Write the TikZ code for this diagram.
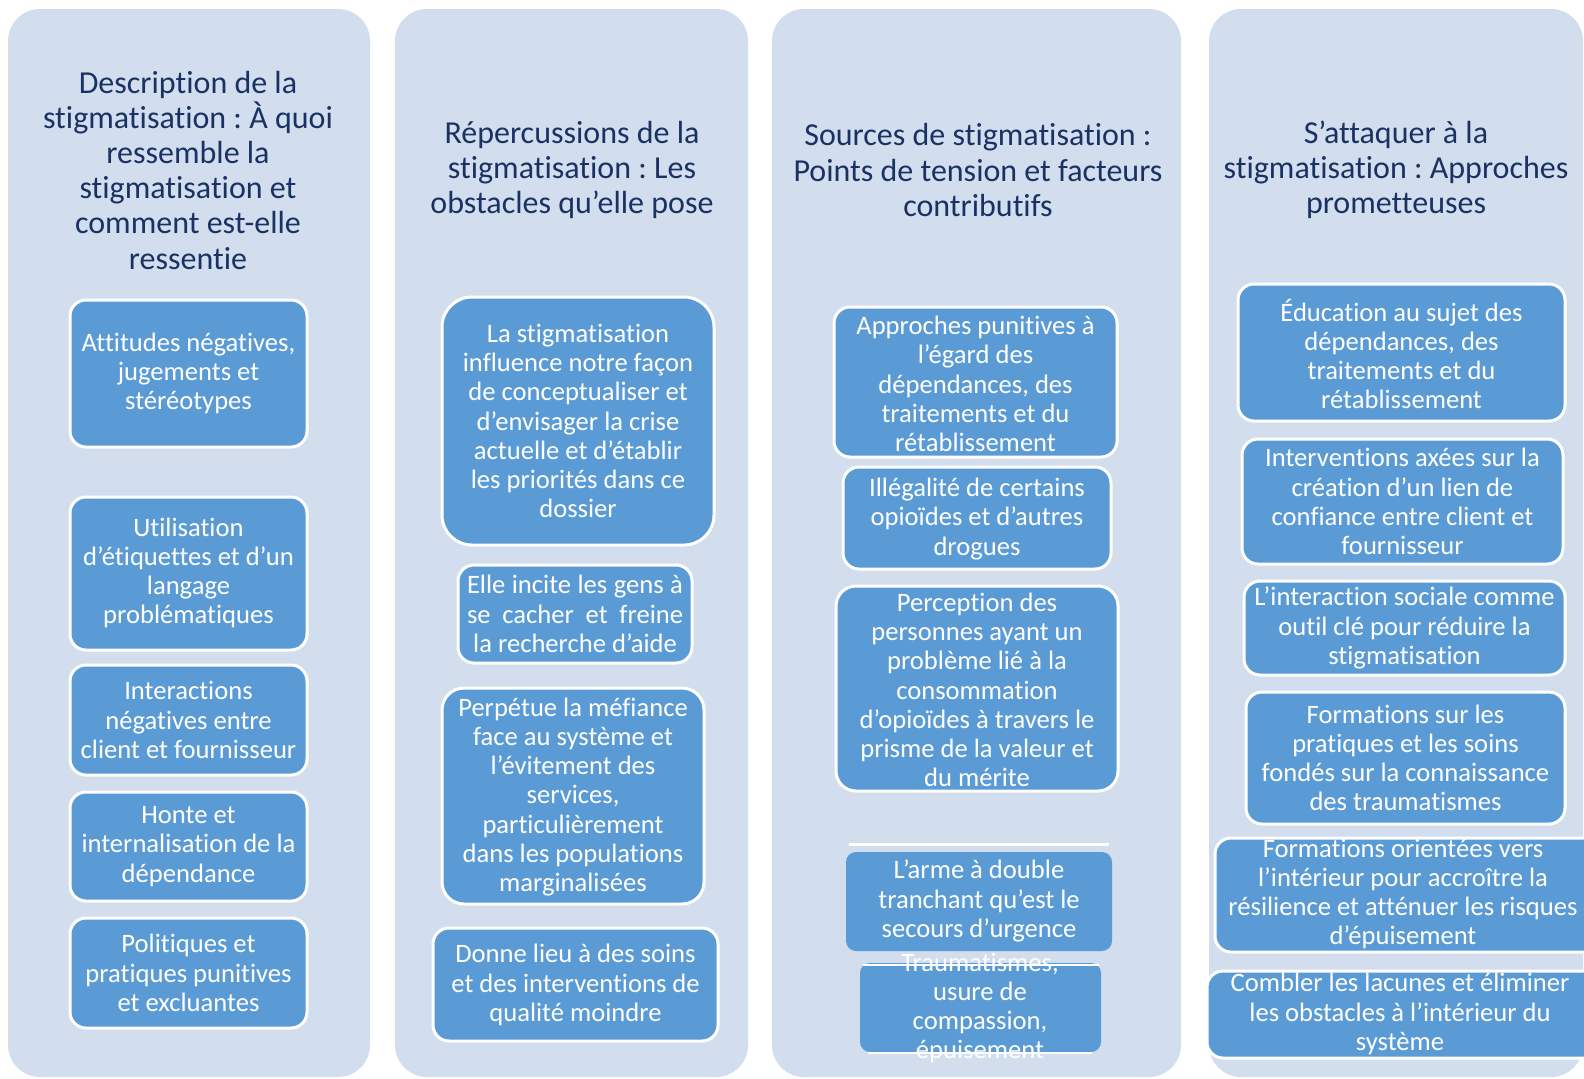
\documentclass[tikz,border=0pt]{standalone}
\usepackage{fontspec}
\setmainfont{Carlito}[Ligatures=NoCommon]
\frenchspacing
\definecolor{panelblue}{HTML}{D2DEEE}
\definecolor{boxblue}{HTML}{5B9BD5}
\definecolor{headnavy}{HTML}{1A3163}

\begin{document}
\begin{tikzpicture}[x=0.5pt,y=-0.5pt,
	panel/.style={fill=panelblue, rounded corners=16pt},
	box/.style={fill=boxblue, draw=white, line width=1.5pt, rounded corners=8pt},
	flatbox/.style={fill=boxblue, draw=none, rounded corners=5pt},
	head/.style={text=headnavy, align=center, inner sep=0pt, font=\fontsize{16}{17.6}\selectfont},
	txt/.style={text=white, align=center, inner sep=0pt, font=\fontsize{13.3}{14.6}\selectfont}]
	
	\useasboundingbox (0,0) rectangle (1584,1078);
	
	% Background panels
	\fill[panel] (8,9) rectangle (370,1077);
	\fill[panel] (395,9) rectangle (748,1077);
	\fill[panel] (772,9) rectangle (1181,1077);
	\fill[panel] (1209,9) rectangle (1583,1077);
	
	% Description
	\node[head] (h1) at (188,170) {Description de la\\stigmatisation : À quoi\\ressemble la\\stigmatisation et\\comment est-elle\\ressentie};
	\filldraw[box] (70,300) rectangle (307,447);
	\node[txt] (d1) at (188.5,373.5) {Attitudes négatives,\\jugements et\\stéréotypes};
	\filldraw[box] (70,497) rectangle (307,650);
	\node[txt] (d2) at (188.5,573) {Utilisation\\d’étiquettes et d’un\\langage\\problématiques};
	\filldraw[box] (70,665) rectangle (307,775);
	\node[txt] (d3) at (188.5,720) {Interactions\\négatives entre\\client et fournisseur};
	\filldraw[box] (70,792) rectangle (307,901);
	\node[txt] (d4) at (188.5,846.5) {Honte et\\internalisation de la\\dépendance};
	\filldraw[box] (70,918) rectangle (307,1028);
	\node[txt] (d5) at (188.5,973) {Politiques et\\pratiques punitives\\et excluantes};
	
	% Repercussions
	\node[head] (h2) at (572,170) {Répercussions de la\\stigmatisation : Les\\obstacles qu’elle pose};
	\filldraw[box, rounded corners=15pt] (442,297) rectangle (714,545);
	\node[txt] (r1) at (578,421) {La stigmatisation\\influence notre façon\\de conceptualiser et\\d’envisager la crise\\actuelle et d’établir\\les priorités dans ce\\dossier};
	\filldraw[box] (458,565) rectangle (692,663);
	\node[txt] (r2) at (575,614) {\makebox[108pt][s]{Elle incite les gens à}\\\makebox[108pt][s]{se cacher et freine}\\la recherche d’aide};
	\filldraw[box, rounded corners=11pt] (442,688) rectangle (704,904);
	\node[txt] (r3) at (573,797) {Perpétue la méfiance\\face au système et\\l’évitement des\\services,\\particulièrement\\dans les populations\\marginalisées};
	\filldraw[box] (433,928) rectangle (718,1041);
	\node[txt] (r4) at (575.5,985) {Donne lieu à des soins\\et des interventions de\\qualité moindre};
	
	% Sources
	\node[head] (h3) at (978,170) {Sources de stigmatisation :\\Points de tension et facteurs\\contributifs};
	\filldraw[box] (834,307) rectangle (1117,457);
	\node[txt] (s1) at (975.5,384) {Approches punitives à\\l’égard des\\dépendances, des\\traitements et du\\rétablissement};
	\filldraw[box] (843,467) rectangle (1111,569);
	\node[txt] (s2) at (977,519) {Illégalité de certains\\opioïdes et d’autres\\drogues};
	\filldraw[box, rounded corners=10pt] (836,586) rectangle (1118,791);
	\node[txt] (s3) at (977,690) {Perception des\\personnes ayant un\\problème lié à la\\consommation\\d’opioïdes à travers le\\prisme de la valeur et\\du mérite};
	\draw[white, line width=1.5pt] (849,844) -- (1109,844);
	\filldraw[flatbox] (846,852) rectangle (1112,951);
	\node[txt] (s4) at (979,901) {L’arme à double\\tranchant qu’est le\\secours d’urgence};
	\filldraw[flatbox] (860,963) rectangle (1101,1052);
	\draw[white, line width=1.2pt] (863,965) -- (1099,965);
	\draw[white, line width=1.2pt] (868,1053) -- (1092,1053);
	\node[txt] (s5) at (980,1008) {Traumatismes,\\usure de\\compassion,\\épuisement};
	
	% Approaches
	\node[head] (h4) at (1396,170) {S’attaquer à la\\stigmatisation : Approches\\prometteuses};
	\filldraw[box] (1238,284) rectangle (1565,421);
	\node[txt] (a1) at (1401.5,354) {Éducation au sujet des\\dépendances, des\\traitements et du\\rétablissement};
	\filldraw[box] (1242,439) rectangle (1563,564);
	\node[txt] (a2) at (1402.5,501.5) {Interventions axées sur la\\création d’un lien de\\confiance entre client et\\fournisseur};
	\filldraw[box] (1244,581) rectangle (1565,675);
	\node[txt] (a3) at (1404.5,628) {L’interaction sociale comme\\outil clé pour réduire la\\stigmatisation};
	\filldraw[box] (1246,692) rectangle (1565,824);
	\node[txt] (a4) at (1405.5,758) {Formations sur les\\pratiques et les soins\\fondés sur la connaissance\\des traumatismes};
	\filldraw[box] (1215,838) rectangle (1600,952);
	\node[txt] (a5) at (1403,894) {Formations orientées vers\\l’intérieur pour accroître la\\résilience et atténuer les risques\\d’épuisement};
	\filldraw[box] (1207,971) rectangle (1600,1058);
	\node[txt] (a6) at (1400,1014) {Combler les lacunes et éliminer\\les obstacles à l’intérieur du\\système};
	
\end{tikzpicture}
\end{document}
